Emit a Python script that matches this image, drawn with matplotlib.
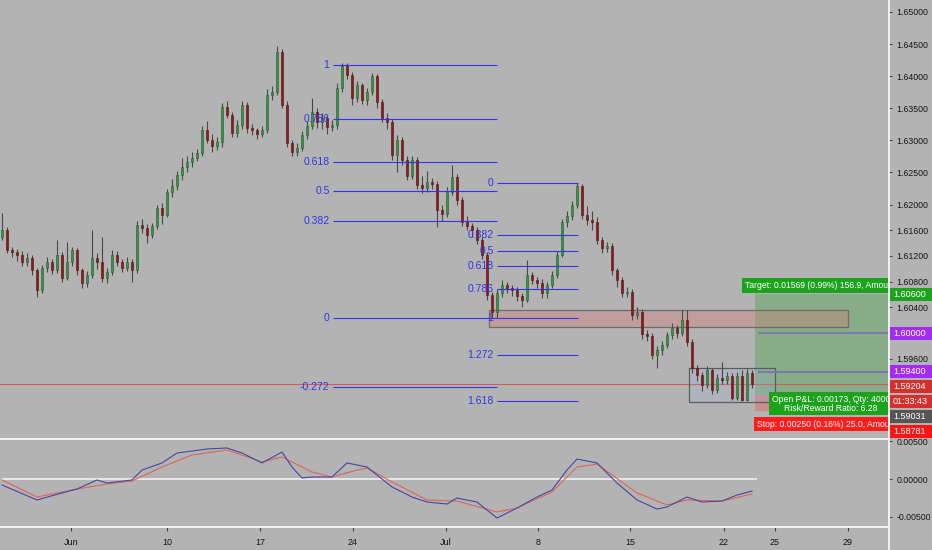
import matplotlib
matplotlib.use('Agg')
import matplotlib.pyplot as plt
from matplotlib.patches import Rectangle
from matplotlib.ticker import FormatStrFormatter
import numpy as np

plt.rcParams['font.family'] = ['Liberation Sans', 'DejaVu Sans']

# ---------------- data (prices in 1e-4 units) ----------------
SC = 1e-4
first_open = 16150
closes = [16160, 16129, 16126, 16122, 16111, 16117, 16098, 16067, 16101, 16111,
          16098, 16122, 16086, 16111, 16129, 16098, 16078, 16090, 16117, 16111,
          16086, 16095, 16122, 16111, 16101, 16111, 16098, 16168, 16164, 16153,
          16167, 16195, 16184, 16220, 16229, 16246, 16259, 16266, 16273, 16280,
          16316, 16301, 16291, 16298, 16352, 16340, 16312, 16324, 16355, 16319,
          16316, 16310, 16316, 16371, 16375, 16438, 16355, 16296, 16282, 16288,
          16308, 16322, 16344, 16329, 16335, 16321, 16324, 16382, 16416, 16402,
          16366, 16386, 16363, 16375, 16400, 16360, 16335, 16329, 16277, 16301,
          16270, 16245, 16270, 16231, 16226, 16235, 16232, 16192, 16185, 16220,
          16243, 16207, 16173, 16167, 16160, 16145, 16122, 16059, 16033, 16062,
          16075, 16070, 16067, 16058, 16051, 16090, 16083, 16078, 16062, 16075,
          16090, 16122, 16173, 16182, 16199, 16229, 16184, 16176, 16173, 16145,
          16132, 16135, 16098, 16083, 16062, 16064, 16028, 16033, 15998, 15995,
          15966, 15973, 15981, 15997, 16008, 16000, 16020, 15986, 15945, 15935,
          15919, 15942, 15911, 15930, 15927, 15933, 15899, 15933, 15896, 15938,
          15920]
highs = [16187, 16165, 16134, 16131, 16127, 16125, 16121, 16102, 16106, 16118,
         16115, 16145, 16126, 16142, 16134, 16132, 16102, 16097, 16160, 16124,
         16150, 16102, 16130, 16127, 16115, 16118, 16116, 16175, 16178, 16170,
         16172, 16200, 16202, 16225, 16240, 16252, 16272, 16275, 16282, 16286,
         16322, 16330, 16310, 16306, 16358, 16362, 16345, 16332, 16362, 16360,
         16326, 16320, 16322, 16380, 16385, 16447, 16442, 16362, 16300, 16296,
         16314, 16330, 16366, 16350, 16342, 16340, 16332, 16390, 16420, 16420,
         16406, 16392, 16390, 16382, 16405, 16404, 16365, 16342, 16334, 16308,
         16306, 16276, 16276, 16274, 16245, 16252, 16242, 16236, 16200, 16228,
         16262, 16247, 16212, 16182, 16172, 16165, 16150, 16126, 16064, 16068,
         16082, 16080, 16075, 16072, 16062, 16114, 16095, 16088, 16084, 16080,
         16096, 16128, 16178, 16190, 16205, 16234, 16232, 16198, 16190, 16180,
         16150, 16142, 16140, 16102, 16088, 16072, 16068, 16040, 16038, 16004,
         16000, 15980, 15988, 16002, 16015, 16012, 16036, 16036, 15990, 15950,
         15940, 15948, 15946, 15936, 15955, 15940, 15938, 15940, 15942, 15944,
         15942]
lows = [16145, 16124, 16118, 16112, 16104, 16105, 16090, 16056, 16062, 16095,
        16092, 16094, 16080, 16082, 16105, 16090, 16070, 16072, 16086, 16100,
        16080, 16078, 16090, 16104, 16095, 16096, 16079, 16094, 16155, 16140,
        16148, 16162, 16170, 16180, 16212, 16222, 16238, 16250, 16258, 16268,
        16276, 16296, 16282, 16285, 16290, 16335, 16305, 16306, 16318, 16312,
        16308, 16302, 16305, 16312, 16363, 16370, 16350, 16290, 16275, 16276,
        16284, 16302, 16318, 16320, 16318, 16310, 16314, 16318, 16375, 16396,
        16355, 16360, 16356, 16355, 16370, 16350, 16328, 16318, 16270, 16250,
        16262, 16238, 16240, 16224, 16218, 16220, 16225, 16165, 16175, 16180,
        16215, 16200, 16166, 16160, 16150, 16138, 16115, 16052, 16023, 16024,
        16056, 16062, 16058, 16050, 16040, 16048, 16076, 16070, 16055, 16054,
        16070, 16086, 16118, 16165, 16176, 16194, 16178, 16168, 16160, 16138,
        16124, 16126, 16090, 16072, 16056, 16056, 16020, 16022, 15990, 15988,
        15960, 15945, 15966, 15976, 15990, 15992, 15996, 15980, 15938, 15925,
        15910, 15914, 15905, 15906, 15920, 15920, 15896, 15896, 15894, 15894,
        15914]

# oscillator (units of 1e-5)
osc_bars = [0, 7, 12, 15, 19, 21, 26, 28, 32, 35, 38, 41, 45, 48, 52, 56, 58, 60, 62, 66,
            69, 73, 78, 82, 85, 89, 91, 95, 99, 103, 107, 110, 113, 115, 119, 123, 127, 131,
            133, 137, 140, 144, 147, 150]
osc_vals = [-79, -276, -184, -132, -13, -53, -13, 118, 211, 342, 368, 395, 408, 342, 211, 355,
            158, 13, 26, 26, 211, 158, -105, -237, -303, -329, -250, -303, -513, -382, -237,
            -145, 118, 263, 211, -53, -276, -395, -368, -237, -303, -290, -211, -158]
sig_bars = [0, 7, 15, 21, 26, 32, 38, 45, 52, 56, 62, 66, 71, 73, 78, 85, 91, 99, 103, 110,
            115, 119, 127, 133, 137, 144, 150]
sig_vals = [-13, -237, -132, -66, -26, 158, 316, 382, 224, 290, 92, 26, 118, 145, -39, -276,
            -290, -434, -382, -171, 158, 197, -184, -342, -276, -290, -197]

date_ticks = [13.8, 33.0, 51.6, 70.2, 88.8, 107.2, 125.6, 144.4, 154.6, 169.2]
date_labels = ['Jun', '10', '17', '24', 'Jul', '8', '15', '22', '25', '29']
price_ticks = [1.650, 1.645, 1.640, 1.635, 1.630, 1.625, 1.620, 1.616, 1.612, 1.608,
               1.604, 1.596]
osc_ticks = [0.005, 0.0, -0.005]

# drawings
fib1_hi, fib1_lo = 1.64175, 1.60234
fib1_levels = [1.272, 1, 0.786, 0.618, 0.5, 0.382, 0, -0.272]
fib1_bars = (66.2, 99.0)
fib2_hi, fib2_lo = 1.62336, 1.60234
fib2_levels = [0, 0.382, 0.5, 0.618, 0.786, 1, 1.272, 1.618]
fib2_bars = (99.0, 115.2)
zone_bars, zone_prices = (97.4, 169.2), (1.600935, 1.603583)
box_bars, box_prices = (137.4, 154.6), (1.589252, 1.594548)
ray_prices = [1.600, 1.594]
ray_start = 151.2
pos_start = 150.6
entry, target, stop = 1.59031, 1.60600, 1.58781
last_price = 1.59204

# ---------------- figure ----------------
BG = '#b3b3b3'
W, H = 932, 550
AX_R, MAIN_B, IND_T, IND_B = 888, 438, 440, 527
fig = plt.figure(figsize=(W / 100, H / 100), dpi=100, facecolor=BG)
ax = fig.add_axes([0, 1 - MAIN_B / H, AX_R / W, MAIN_B / H])
ax2 = fig.add_axes([0, 1 - IND_B / H, AX_R / W, (IND_B - IND_T) / H])
for a in (ax, ax2):
    a.set_facecolor(BG)
    for s in a.spines.values():
        s.set_visible(False)
    a.set_xlim(-0.4, 177.2)
    a.yaxis.tick_right()
    a.tick_params(axis='y', length=3, width=0.8, color='#444444', labelsize=6.3,
                  labelcolor='#151515', pad=3)
ax.set_ylim(1.583645, 1.651869)
ax2.set_ylim(-0.006316, 0.005132)
ax.set_xticks([])

# candles
n = len(closes)
idx = np.arange(n)
c = np.array(closes) * SC
hi = np.array(highs) * SC
lo = np.array(lows) * SC
o = np.array([first_open] + closes[:-1]) * SC
up = c >= o
ax.vlines(idx, lo, hi, color='#474747', lw=0.8, zorder=3)
body = np.where(np.abs(c - o) < 0.00003, 0.00003, c - o)
ax.bar(idx, body, bottom=o, width=0.56,
       color=np.where(up, '#3b9249', '#8e1c1c'),
       edgecolor=np.where(up, '#245c2c', '#4f0e0e'), linewidth=0.4, zorder=4)

# current price line
ax.axhline(last_price, color='#d45a5a', lw=0.8, zorder=2)

# zones
ax.add_patch(Rectangle((zone_bars[0], zone_prices[0]), zone_bars[1] - zone_bars[0],
                       zone_prices[1] - zone_prices[0], fc=(0.88, 0.45, 0.45, 0.32),
                       ec='#6c6c6c', lw=0.9, zorder=2))
ax.add_patch(Rectangle((box_bars[0], box_prices[0]), box_bars[1] - box_bars[0],
                       box_prices[1] - box_prices[0], fc=(0.62, 0.7, 0.92, 0.18),
                       ec='#5c5c5c', lw=0.9, zorder=2))

# position tool
ax.add_patch(Rectangle((pos_start, entry), 60, target - entry, fc=(0.2, 0.62, 0.2, 0.33),
                       ec='none', zorder=1.5))
ax.add_patch(Rectangle((pos_start, stop), 60, entry - stop, fc=(1.0, 0.22, 0.22, 0.3),
                       ec='none', zorder=1.5))
ax.hlines(ray_prices, ray_start, 177.2, color='#7a7aae', lw=1.5, zorder=2.5)

# fibs
FIB_C = '#3434e6'
for lvl in fib1_levels:
    p = fib1_lo + lvl * (fib1_hi - fib1_lo)
    ax.hlines(p, fib1_bars[0], fib1_bars[1], color=FIB_C, lw=0.8, zorder=5)
    ax.annotate(f'{lvl:g}', (fib1_bars[0], p), xytext=(-2.5, 0), textcoords='offset points',
                ha='right', va='center', fontsize=7.5, color=FIB_C, clip_on=True,
                annotation_clip=False, zorder=6)
for lvl in fib2_levels:
    p = fib2_hi - lvl * (fib2_hi - fib2_lo)
    ax.hlines(p, fib2_bars[0], fib2_bars[1], color=FIB_C, lw=0.8, zorder=5)
    ax.annotate(f'{lvl:g}', (fib2_bars[0], p), xytext=(-2.5, 0), textcoords='offset points',
                ha='right', va='center', fontsize=7.5, color=FIB_C, clip_on=True,
                annotation_clip=False, zorder=6)

# position labels
lab_kw = dict(textcoords='offset points', fontsize=6.2, color='white', clip_on=True,
              annotation_clip=False, zorder=9)
ax.annotate('Target: 0.01569 (0.99%) 156.9, Amount: 62.76', (pos_start - 2.0, target),
            xytext=(0, 6.5), ha='left', va='center',
            bbox=dict(boxstyle='square,pad=0.35', fc='#1ca21c', ec='none'), **lab_kw)
ax.annotate('Open P&L: 0.00173, Qty: 4000\nRisk/Reward Ratio: 6.28', (165.8, entry),
            xytext=(0, -6.2), ha='center', va='center', multialignment='center',
            linespacing=1.0,
            bbox=dict(boxstyle='square,pad=0.3', fc='#1ca21c', ec='none'), **lab_kw)
ax.annotate('Stop: 0.00250 (0.16%) 25.0, Amount: 10.00', (pos_start + 0.4, stop),
            xytext=(0, -9.4), ha='left', va='center',
            bbox=dict(boxstyle='square,pad=0.3', fc='#ff1c1c', ec='none'), **lab_kw)

ax.set_yticks(price_ticks)
ax.yaxis.set_major_formatter(FormatStrFormatter('%.5f'))

# oscillator pane
ax2.hlines(0, 0, n, color='#ececec', lw=1.3, zorder=1)
ax2.plot(np.array(sig_bars), np.array(sig_vals) * 1e-5, color='#e0645a', lw=0.8, zorder=3)
ax2.plot(np.array(osc_bars), np.array(osc_vals) * 1e-5, color='#4646a6', lw=0.8, zorder=4)
ax2.set_yticks(osc_ticks)
ax2.yaxis.set_major_formatter(FormatStrFormatter('%.5f'))
ax2.set_xticks(date_ticks)
ax2.set_xticklabels(date_labels)
ax2.tick_params(axis='x', length=3, width=0.8, color='#444444', labelsize=6.5,
                labelcolor='#151515', pad=5)

# overlay: pane borders and axis tags
ov = fig.add_axes([0, 0, 1, 1], zorder=10)
ov.set_xlim(0, W)
ov.set_ylim(H, 0)
ov.axis('off')
LINE_C = '#f2f2f2'
ov.plot([0, AX_R], [IND_T - 1, IND_T - 1], color=LINE_C, lw=1.4)
ov.plot([0, AX_R], [IND_B, IND_B], color=LINE_C, lw=1.4)
ov.plot([AX_R + 0.5, AX_R + 0.5], [0, H], color=LINE_C, lw=1.4)

fig.canvas.draw()


def price_to_px(p):
    return H - ax.transData.transform((0, p))[1]


tags = [('1.60600', target, '#1ca21c'), ('1.60000', 1.600, '#a22cf2'),
        ('1.59400', 1.594, '#a22cf2'), ('1.59204', last_price, '#d33030'),
        ('01:33:43', None, '#d33030'), ('1.59031', entry, '#555555'),
        ('1.58781', stop, '#ff1414')]
TAG_H = 13
STEP = 15
prev = -100
for txt, p, col in tags:
    y = price_to_px(p) if p is not None else prev + STEP
    y = max(y, prev + STEP)
    prev = y
    ov.add_patch(Rectangle((AX_R + 1.5, y - TAG_H / 2), W - AX_R, TAG_H, fc=col, ec='none'))
    ov.text(AX_R + 5, y, txt, color='white', fontsize=6.5, ha='left', va='center')

fig.savefig('out.png', dpi=100, facecolor=BG)
